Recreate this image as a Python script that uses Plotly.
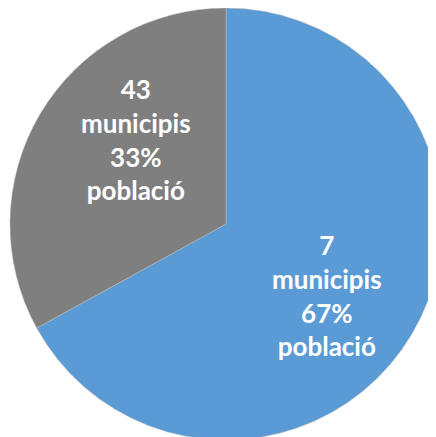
import plotly.graph_objects as go

labels = ["7 municipis", "43 municipis"]
municipis = [7, 43]
poblacio_pct = [67, 33]
colors = ["#5B9BD5", "#7F7F7F"]

text = [f"{m}<br>municipis<br>{p}%<br>població" for m, p in zip(municipis, poblacio_pct)]

# label anchor positions (paper fraction) for each slice's label
label_pos = [(0.7317, 0.343), (0.2936, 0.698)]

fig = go.Figure(go.Pie(
    labels=labels,
    values=poblacio_pct,
    textinfo="none",
    direction="clockwise",
    rotation=0,
    sort=False,
    marker=dict(colors=colors, line=dict(color="#BBBBBB", width=0.5)),
    hoverinfo="skip",
    domain=dict(x=[0.0, 1.0], y=[0.0114, 1.0]),
))
for t, (px, py) in zip(text, label_pos):
    fig.add_annotation(
        text=t, x=px, y=py, xref="paper", yref="paper",
        xanchor="center", yanchor="middle", align="center",
        showarrow=False,
        font=dict(family="Lato", size=26, color="white", weight="bold"),
    )
fig.update_layout(
    showlegend=False,
    margin=dict(l=0, r=0, t=0, b=0),
    paper_bgcolor="white",
    plot_bgcolor="white",
    width=436, height=437,
)
fig.write_html("out.html")
